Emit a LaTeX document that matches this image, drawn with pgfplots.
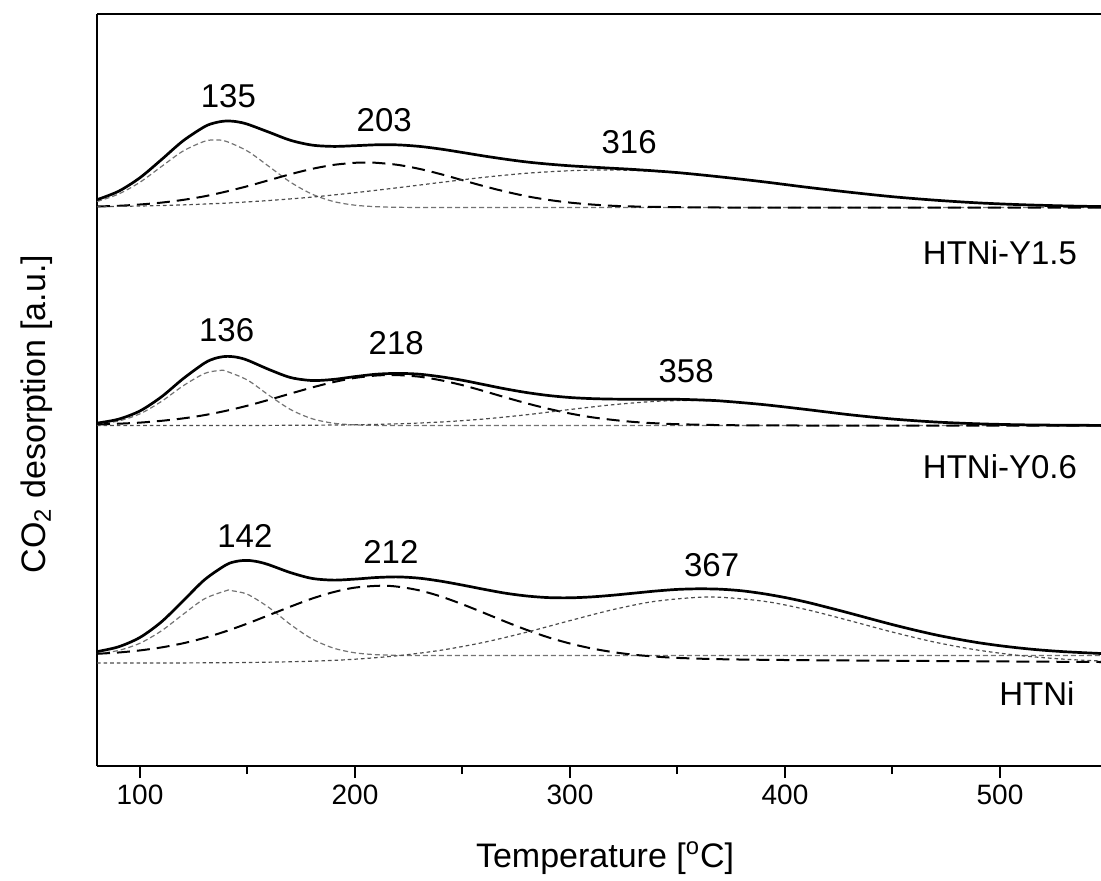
\documentclass[border=0pt]{standalone}
\usepackage{fontspec}
\setmainfont{Liberation Sans}
\usepackage{pgfplots}
\pgfplotsset{compat=1.18}

% line styles for the fitted components
\tikzset{
  envelope/.style={black, line width=1.35pt, smooth},
  peakA/.style={black!55, line width=0.6pt, dash pattern=on 2.5pt off 1.5pt, smooth},
  peakB/.style={black, line width=1pt, dash pattern=on 6.5pt off 3.5pt, smooth},
  peakC/.style={black!70, line width=0.6pt, dash pattern=on 1.8pt off 1.5pt, smooth},
  lbl/.style={font=\fontsize{16.5}{19}\selectfont, anchor=center, inner sep=0pt},
}

\begin{document}
\begin{tikzpicture}
\useasboundingbox (0,0) rectangle (550.5pt,440pt);
\begin{axis}[
  at={(48.5pt,57pt)}, anchor=south west,
  scale only axis, width=502pt, height=376pt,
  xmin=80, xmax=547, ymin=0, ymax=752,
  axis x line*=box, axis y line*=left,
  y axis line style={-},
  axis line style={line width=1pt},
  xtick={100,200,300,400,500},
  minor xtick={150,250,350,450},
  ytick=\empty,
  xtick pos=left, xticklabel pos=left,
  tick align=outside,
  major tick length=6pt, minor tick length=4pt,
  every tick/.style={black, line width=1pt},
  /pgf/number format/assume math mode=true,
  tick label style={font=\fontsize{14}{16}\selectfont},
  xlabel={Temperature [\textsuperscript{o}C]},
  ylabel={CO\textsubscript{2} desorption [a.u.]},
  label style={font=\fontsize{17}{20}\selectfont},
  xlabel style={at={(axis description cs:0.506,0)}, anchor=center, yshift=-46pt},
  ylabel style={at={(axis description cs:0,0.468)}, anchor=center, yshift=30pt},
  clip=false,
]

% ---------------- HTNi-Y1.5 ----------------
\addplot[peakA] coordinates {(80,564.5)(90,571.9)(100,583.8)(110,599.5)(120,614.9)(130,624.7)(135,626.0)(140,624.7)(150,614.9)(160,599.5)(170,583.8)(180,571.9)(190,564.5)(200,560.8)(210,559.3)(220,558.7)(240,558.5)(300,558.5)(400,558.5)(547,558.5)};
\addplot[peakB] coordinates {(80,559.5)(90,560.2)(100,561.5)(110,563.4)(120,566.1)(130,569.7)(140,574.4)(150,579.8)(160,585.8)(170,591.8)(180,597.1)(190,601.1)(200,603.2)(205,603.5)(210,603.2)(220,601.1)(230,597.1)(240,591.8)(250,585.8)(260,579.8)(270,574.4)(280,569.7)(290,566.1)(300,563.4)(310,561.5)(320,560.2)(330,559.5)(350,558.8)(370,558.5)(450,558.5)(547,558.5)};
\addplot[peakC] coordinates {(80,559.3)(100,560.0)(120,561.1)(140,562.9)(160,565.5)(180,568.9)(200,573.3)(220,578.3)(240,583.6)(260,588.7)(280,592.8)(300,595.3)(316,596.0)(330,595.5)(350,593.1)(370,589.1)(390,584.2)(410,578.8)(430,573.8)(450,569.3)(470,565.8)(490,563.1)(510,561.3)(530,560.1)(547,559.4)};
\addplot[envelope] coordinates {(80,566.3)(90,574.7)(100,588.3)(110,606.4)(120,625.1)(130,639.3)(135,643.3)(140,645.0)(145,644.3)(150,641.8)(160,633.8)(170,625.7)(180,620.9)(190,619.6)(200,620.3)(210,621.2)(220,621.1)(230,619.6)(240,616.9)(250,613.5)(260,610.0)(270,606.8)(280,604.0)(290,601.9)(300,600.2)(310,598.9)(320,597.7)(330,596.5)(350,593.4)(370,589.1)(390,584.2)(410,578.8)(430,573.8)(450,569.3)(470,565.8)(490,563.1)(510,561.3)(530,560.1)(547,559.4)};

% ---------------- HTNi-Y0.6 ----------------
\addplot[peakA] coordinates {(80,341.9)(90,345.0)(100,352.2)(110,364.6)(120,380.1)(130,392.5)(137,395.5)(140,394.9)(150,385.9)(160,370.7)(170,356.5)(180,347.3)(190,342.8)(200,341.1)(210,340.6)(220,340.5)(300,340.5)(400,340.5)(547,340.5)};
\addplot[peakB] coordinates {(80,341.5)(90,342.3)(100,343.4)(110,345.2)(120,347.6)(130,350.9)(140,355.2)(150,360.3)(160,366.2)(170,372.4)(180,378.5)(190,383.9)(200,388.1)(210,390.5)(217,391.0)(220,390.9)(230,389.3)(240,385.7)(250,380.8)(260,374.9)(270,368.6)(280,362.6)(290,357.2)(300,352.5)(310,348.8)(320,346.1)(330,344.0)(340,342.7)(350,341.8)(370,340.9)(390,340.6)(410,340.5)(480,340.5)(547,340.5)};
\addplot[peakC] coordinates {(80,340.5)(120,340.5)(150,340.55)(180,340.8)(200,341.2)(220,342.2)(240,344.0)(260,347.0)(280,351.3)(300,356.5)(320,361.3)(340,364.7)(355,365.5)(370,364.7)(390,361.3)(410,356.5)(430,351.3)(450,347.0)(470,344.0)(490,342.2)(510,341.2)(530,340.8)(547,340.6)};
\addplot[envelope] coordinates {(80,342.9)(90,346.8)(100,355.1)(110,369.2)(120,387.2)(130,402.9)(135,407.7)(140,409.6)(145,408.8)(150,405.8)(160,396.5)(170,388.5)(180,385.5)(190,386.6)(200,389.4)(210,391.8)(220,392.6)(230,391.8)(240,389.2)(250,385.7)(260,381.4)(270,377.1)(280,373.4)(290,370.5)(300,368.5)(310,367.4)(320,366.9)(330,366.8)(340,366.8)(350,366.7)(360,366.1)(370,365.1)(390,361.4)(410,356.5)(430,351.3)(450,347.0)(470,344.0)(490,342.2)(510,341.2)(530,340.8)(547,340.6)};

% ---------------- HTNi ----------------
\addplot[peakA] coordinates {(80,112.2)(90,115.55)(100,122.8)(110,135.2)(120,151.6)(130,167.2)(140,175.25)(142,175.5)(150,171.7)(160,158.4)(170,141.5)(180,127.1)(190,117.9)(200,113.2)(210,111.3)(220,110.7)(230,110.5)(300,110.5)(400,110.5)(547,110.5)};
\addplot[peakB] coordinates {(80,112.2)(90,113.5)(100,115.6)(110,118.6)(120,122.7)(130,128.1)(140,134.8)(150,142.5)(160,150.9)(170,159.4)(180,167.4)(190,173.9)(200,178.4)(212,180.3)(220,179.3)(230,175.6)(240,169.5)(250,161.7)(260,153.1)(270,144.3)(280,136.0)(290,128.6)(300,122.5)(310,117.6)(320,113.9)(330,111.2)(340,109.4)(350,108.1)(370,106.8)(400,106.0)(450,105.25)(500,104.6)(547,104.0)};
\addplot[peakC] coordinates {(80,103.0)(120,103.1)(150,103.5)(180,104.8)(200,106.8)(220,110.3)(240,115.8)(260,123.7)(280,133.9)(300,145.4)(320,156.4)(340,164.8)(365,169.0)(390,164.8)(410,156.4)(430,145.4)(450,133.9)(470,123.7)(490,115.8)(510,110.3)(530,106.8)(547,105.0)};
\addplot[envelope] coordinates {(80,114.4)(90,119.2)(100,128.6)(110,144.2)(120,165.0)(130,186.2)(140,201.1)(145,204.7)(150,205.6)(155,204.2)(160,201.2)(170,193.4)(180,187.6)(190,185.9)(200,186.9)(210,188.5)(220,189.1)(230,187.8)(240,184.8)(250,180.9)(260,176.7)(270,172.8)(280,170.0)(290,168.4)(300,168.2)(310,169.1)(320,170.8)(330,172.9)(340,175.0)(350,176.6)(360,177.2)(370,176.8)(380,175.2)(390,172.3)(400,168.5)(410,163.9)(420,158.5)(430,152.9)(440,147.1)(450,141.4)(460,136.1)(470,131.2)(480,127.0)(490,123.3)(500,120.3)(510,117.8)(520,115.8)(530,114.3)(540,113.2)(547,112.5)};

% peak maxima and sample names
\node[lbl] at (axis cs:141.1,669.5) {135};
\node[lbl] at (axis cs:213.6,646) {203};
\node[lbl] at (axis cs:327.5,624) {316};
\node[lbl] at (axis cs:500,513) {HTNi-Y1.5};
\node[lbl] at (axis cs:140.3,436) {136};
\node[lbl] at (axis cs:219.2,422.7) {218};
\node[lbl] at (axis cs:354,395) {358};
\node[lbl] at (axis cs:500,299.3) {HTNi-Y0.6};
\node[lbl] at (axis cs:148.8,229.8) {142};
\node[lbl] at (axis cs:216.7,214.3) {212};
\node[lbl] at (axis cs:365.9,201) {367};
\node[lbl] at (axis cs:517.2,72) {HTNi};
\end{axis}
\end{tikzpicture}
\end{document}
